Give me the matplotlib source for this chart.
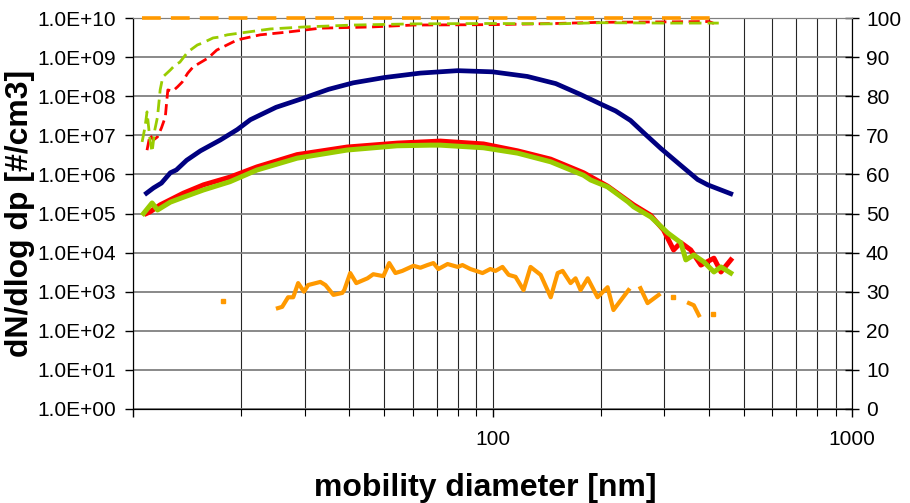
import numpy as np
import matplotlib.pyplot as plt
from matplotlib.ticker import LogLocator, FixedLocator, FuncFormatter, NullFormatter

plt.rcParams['font.family'] = ['Liberation Sans', 'DejaVu Sans']

nan = np.nan

# number size distributions (left axis, dN/dlog dp)
navy_d = [10.9, 11.4, 12.0, 12.7, 13.2, 14.1, 15.4, 17.5, 19.5, 21.2, 25, 29.8, 35, 41, 50, 63, 80, 100,
          125, 150, 176, 200, 220, 242, 265, 294, 334, 372, 397, 460]
navy_n = [3.3e5, 4.5e5, 6.0e5, 1.1e6, 1.3e6, 2.3e6, 4.0e6, 7.6e6, 1.4e7, 2.5e7, 5.2e7, 8.9e7, 1.5e8, 2.2e8,
          3.0e8, 3.9e8, 4.5e8, 4.2e8, 3.2e8, 2.1e8, 1.1e8, 6.3e7, 4.2e7, 2.4e7, 1.1e7, 4.6e6, 1.7e6,
          7.4e5, 5.4e5, 3.2e5]

red_d = [10.9, 11.15, 11.9, 13.8, 15.7, 18.6, 22.1, 28.6, 39.4, 54.3, 71.6, 94.4, 117.4, 145.2, 179.2, 209,
         247, 275, 299, 319, 334, 356, 380, 413, 432, 460]
red_n = [1.0e5, 1.1e5, 1.66e5, 3.3e5, 5.4e5, 8.5e5, 1.55e6, 3.2e6, 5.0e6, 6.3e6, 7.1e6, 6.0e6, 4.0e6,
         2.45e6, 1.1e6, 5.0e5, 1.66e5, 9.1e4, 3.8e4, 1.17e4, 1.8e4, 1.17e4, 4.8e3, 7.2e3, 3.2e3, 6.5e3]

green_d = [10.7, 11.3, 11.7, 12.7, 13.8, 15.7, 18.6, 22.1, 28.6, 39.4, 54.3, 67.2, 71.6, 94.4, 117.4, 145.2,
           179.2, 187.5, 209, 238, 247, 276, 307, 334, 345, 363, 387, 413, 432, 460]
green_n = [1.0e5, 1.86e5, 1.23e5, 1.95e5, 2.6e5, 4.0e5, 6.5e5, 1.29e6, 2.6e6, 4.2e6, 5.4e6, 5.6e6, 5.6e6,
           4.8e6, 3.5e6, 2.1e6, 9.5e5, 7.2e5, 4.8e5, 2.0e5, 1.48e5, 8.1e4, 3.2e4, 1.8e4, 6.5e3, 8.7e3,
           5.8e3, 3.2e3, 4.3e3, 3.0e3]

orange_d = [17.8, 21.5,
            25.3, 26.0, 27.0, 27.9, 28.8, 29.9, 30.7, 33.2, 34.3, 36.1, 38.2, 38.7, 40.2, 41.8, 44.9, 46.6,
            49.7, 51.6, 53.7, 56.1, 60.3, 63.0, 65.9, 68.5, 70.7, 75.0, 80.0, 82.5, 86.8, 93.8, 98.6, 101.9,
            106.6, 110.9, 115.9, 122, 127.6, 136.1, 145.2, 151.8, 156.7, 164.9, 170.2, 175.8, 184, 196, 209,
            217, 239, 248,
            258, 270, 290, 303,
            317, 334,
            352, 363, 375, 392,
            410]
orange_n = [5.8e2, nan,
            3.8e2, 4.1e2, 7.2e2, 7.2e2, 1.66e3, 1.0e3, 1.48e3, 1.78e3, 1.48e3, 8.3e2, 9.3e2, 1.1e3, 3.0e3,
            1.66e3, 2.2e3, 2.8e3, 2.5e3, 5.4e3, 3.0e3, 3.4e3, 4.6e3, 4.1e3, 4.8e3, 5.4e3, 3.8e3, 5.1e3,
            4.3e3, 4.8e3, 3.8e3, 3.0e3, 3.8e3, 3.4e3, 4.3e3, 2.7e3, 2.4e3, 1.1e3, 4.3e3, 2.7e3, 7.2e2,
            3.0e3, 3.4e3, 1.66e3, 2.2e3, 1.1e3, 2.2e3, 7.2e2, 1.3e3, 3.4e2, 1.1e3, nan,
            1.23e3, 5.1e2, 8.3e2, nan,
            7.2e2, nan,
            5.1e2, 4.5e2, 2.5e2, nan,
            2.7e2]

# cumulative curves (right axis, %)
cum_orange_d = [10.6, 423]
cum_orange = [100, 100]

cum_green_d = [10.6, 10.8, 10.94, 11.15, 11.3, 11.5, 11.7, 11.9, 12.1, 12.7, 13.1, 13.5, 14.2, 15.1, 15.6,
               16.7, 17.3, 18.3, 20.8, 24.1, 29.8, 41.0, 60.3, 100, 150, 200, 300, 426]
cum_green = [68.3, 72.1, 76.0, 68.8, 65.7, 71.4, 74.7, 81.6, 84.9, 86.7, 88.0, 88.7, 91.3, 93.1, 93.6,
             94.9, 95.1, 95.7, 96.4, 97.2, 97.7, 98.2, 98.5, 98.6, 98.5, 98.8, 98.7, 98.7]

cum_red_d = [10.94, 11.15, 11.4, 11.7, 12.0, 12.3, 12.4, 12.5, 12.9, 13.3, 13.7, 14.2, 14.7, 16.2, 17.1,
             19.5, 22.6, 26.9, 33.2, 45.7, 60.3, 100, 150, 200, 300, 400, 413]
cum_red = [66.2, 70.1, 68.8, 69.6, 71.9, 74.7, 78.3, 81.6, 81.3, 82.4, 83.6, 85.9, 87.5, 89.8, 91.8,
           94.4, 95.7, 96.4, 97.4, 97.7, 98.2, 98.3, 98.6, 98.9, 99.0, 99.1, 98.6]

c_navy = '#000080'
c_red = '#ff0000'
c_green = '#99cc00'
c_orange = '#ff9900'

fig = plt.figure(figsize=(9.1, 5.03), dpi=100)
ax = fig.add_axes([133 / 910, 1 - 409 / 503, 719 / 910, 391 / 503])
ax2 = ax.twinx()

ax.set_xscale('log')
ax.set_yscale('log')
ax.set_xlim(10, 1000)
ax.set_ylim(1, 1e10)
ax2.set_ylim(0, 100)

# grid
ax.yaxis.set_major_locator(FixedLocator([10.0 ** k for k in range(11)]))
ax.yaxis.set_minor_locator(FixedLocator([]))
ax.yaxis.set_major_formatter(FuncFormatter(lambda v, p: '%.1fE+%02d' % (1.0, round(np.log10(v)))))
ax.xaxis.set_major_locator(FixedLocator([10, 100, 1000]))
ax.xaxis.set_major_formatter(FuncFormatter(lambda v, p: '' if v < 50 else '%d' % v))
ax.xaxis.set_minor_locator(LogLocator(base=10, subs=range(2, 10)))
ax.xaxis.set_minor_formatter(NullFormatter())
ax.grid(True, axis='y', which='major', color='#808080', linewidth=1.3)
ax.grid(True, axis='x', which='both', color='#000000', linewidth=0.8, alpha=0.85)
ax.set_axisbelow(True)

ax.plot(red_d, red_n, color=c_red, linewidth=3.6, solid_joinstyle='round', zorder=3)
ax.plot(green_d, green_n, color=c_green, linewidth=3.6, solid_joinstyle='round', zorder=3)
ax.plot(navy_d, navy_n, color=c_navy, linewidth=3.4, solid_joinstyle='round', zorder=3)
ax.plot(orange_d, orange_n, color=c_orange, linewidth=3.0, solid_joinstyle='round', zorder=3)

# single points between gaps show as small squares
od = np.array(orange_d)
on = np.array(orange_n)
prev_nan = np.concatenate([[True], np.isnan(on[:-1])])
next_nan = np.concatenate([np.isnan(on[1:]), [True]])
iso = prev_nan & next_nan & ~np.isnan(on)
ax.plot(od[iso], on[iso], linestyle='none', marker='s', markersize=3.5, color=c_orange, zorder=3)

ax2.plot(cum_red_d, cum_red, color=c_red, linewidth=2.0, dashes=(4.0, 2.0))
ax2.plot(cum_green_d, cum_green, color=c_green, linewidth=2.0, dashes=(4.5, 2.2))
ax2.plot(cum_orange_d, cum_orange, color=c_orange, linewidth=2.6, dashes=(5.2, 2.8),
         clip_on=False, zorder=5)
ax2.set_yticks(range(0, 101, 10))

for s in ['left', 'bottom', 'right']:
    ax2.spines[s].set_color('black')
ax.spines['top'].set_color('#808080')
ax2.spines['top'].set_color('#808080')

ax.tick_params(axis='y', which='major', direction='out', length=6, width=1, pad=6, labelsize=15)
ax.tick_params(axis='x', which='major', direction='out', length=6, width=1, pad=9, labelsize=15)
ax.tick_params(axis='x', which='minor', direction='out', length=5, width=0.8)
ax2.tick_params(axis='y', direction='inout', length=10, width=1, pad=5, labelsize=15)

ax.set_ylabel('dN/dlog dp [#/cm3]', fontsize=23, fontweight='bold')
ax.yaxis.set_label_coords(-0.136, 0.5)
ax.set_xlabel('mobility diameter [nm]', fontsize=23, fontweight='bold')
ax.xaxis.set_label_coords(0.49, -0.163)

fig.savefig('out.png', dpi=100)
